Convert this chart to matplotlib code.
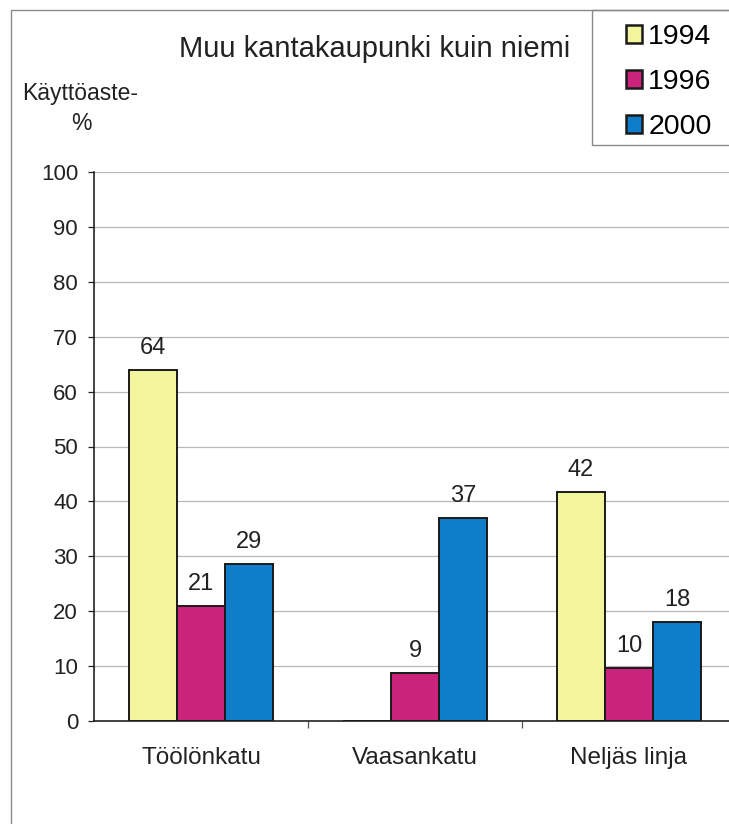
import numpy as np
import matplotlib
matplotlib.use('Agg')
import matplotlib.pyplot as plt
from matplotlib.patches import Rectangle

plt.rcParams['font.family'] = ['Liberation Sans', 'DejaVu Sans']

streets = ['Töölönkatu', 'Vaasankatu', 'Neljäs linja']
years = ['1994', '1996', '2000']
v1994 = [64.0, 0.0, 41.7]
v1996 = [20.9, 8.7, 9.6]
v2000 = [28.6, 37.0, 18.0]
colors = ['#f3f59c', '#c9237c', '#0f7dca']

fig = plt.figure(figsize=(7.29, 8.24), dpi=100)
ax = fig.add_axes([94/729., 103/824., 642/729., 549/824.])

x = np.arange(len(streets))
w = 0.224
bars = []
for i, vals in enumerate([v1994, v1996, v2000]):
    b = ax.bar(x + (i - 1)*w, vals, w, color=colors[i], edgecolor='#1a1a1a',
               lw=1.4, zorder=3, label=years[i])
    labs = ['%.0f' % v if v > 0 else '' for v in vals]
    ax.bar_label(b, labels=labs, padding=8, fontsize=17, color='#222222')
    bars.append(b)

ax.set_xlim(-0.5, 2.5)
ax.set_ylim(0, 100)
ax.set_yticks(np.arange(0, 101, 10))
ax.set_xticks(x)
ax.set_xticklabels(streets)
ax.set_xticks([0.5, 1.5], minor=True)
ax.tick_params(axis='y', labelsize=16, length=4.5, width=0.9, pad=7, colors='#222222')
ax.tick_params(axis='x', which='major', labelsize=17.5, length=0, pad=19, colors='#222222')
ax.tick_params(axis='x', which='minor', length=5, width=0.9, color='#555555')
ax.grid(axis='y', color='#b8b8b8', lw=0.9, zorder=0)
ax.set_axisbelow(True)
for s in ['top', 'right']:
    ax.spines[s].set_visible(False)
for s in ['left', 'bottom']:
    ax.spines[s].set_color('#222222')
    ax.spines[s].set_linewidth(1.2)

# outer frame and legend box
fig.add_artist(Rectangle((11/729., -0.1), 1.0, 1.1 - 10/824., transform=fig.transFigure,
                         fill=False, edgecolor='#8a8a8a', lw=1.0))
fig.add_artist(Rectangle((592/729., 1 - 145/824.), 0.5, 135/824., transform=fig.transFigure,
                         fill=False, edgecolor='#8a8a8a', lw=1.0))

leg = fig.legend(handles=bars, labels=years, loc='upper left',
                 bbox_to_anchor=(626/729., 1 - 24/824.), frameon=False, fontsize=20.5,
                 handlelength=0.56, handleheight=0.56, handletextpad=0.22,
                 labelspacing=0.67, borderpad=0, borderaxespad=0)
for h in leg.legend_handles:
    h.set_linewidth(1.8)

fig.text(375/729., 1 - 57/824., 'Muu kantakaupunki kuin niemi', ha='center',
         va='baseline', fontsize=21, color='#222222')
fig.text(80/729., 1 - 100/824., 'Käyttöaste-', ha='center', va='baseline',
         fontsize=16.5, color='#222222')
fig.text(81/729., 1 - 130/824., '%', ha='center', va='baseline',
         fontsize=16.5, color='#222222')

fig.savefig('out.png', dpi=100)
